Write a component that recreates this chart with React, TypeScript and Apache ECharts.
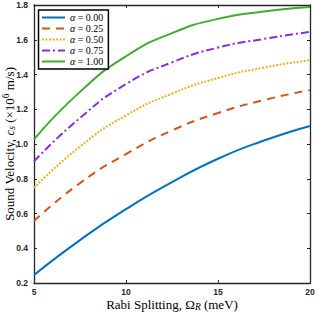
import React, { useEffect, useRef } from "react";
import * as echarts from "echarts";

const omega = [5, 7.5, 10, 12.5, 15, 17.5, 20];
const alphaNames = ["α = 0.00", "α = 0.25", "α = 0.50", "α = 0.75", "α = 1.00"];
const v000 = [0.246, 0.447, 0.625, 0.78, 0.915, 1.02, 1.104];
const v025 = [0.557, 0.775, 0.942, 1.078, 1.178, 1.253, 1.31];
const v050 = [0.747, 0.985, 1.165, 1.29, 1.38, 1.44, 1.483];
const v075 = [0.9, 1.15, 1.345, 1.47, 1.555, 1.605, 1.645];
const v100 = [1.026, 1.3, 1.505, 1.638, 1.72, 1.762, 1.788];
const xTicks = [5, 10, 15, 20];
const yTicks = [0.2, 0.4, 0.6, 0.8, 1.0, 1.2, 1.4, 1.6, 1.8];

const seriesValues = [v000, v025, v050, v075, v100];
const colors = ["#0072BD", "#D95319", "#EDB120", "#8A2BE2", "#44AA33"];
const dashes: any[] = ["solid", [8, 6], [2, 1.5], [8, 3, 2, 3], "solid"];

const axisColor = "#262626";
const serif = "'Liberation Serif', 'DejaVu Serif', serif";
const sans = "'Liberation Sans', Arial, sans-serif";

export default function App() {
  const ref = useRef<HTMLDivElement>(null);
  useEffect(() => {
    document.body.style.margin = "0";
    const chart = echarts.init(ref.current!, null, { renderer: "svg" });
    const nameRich = {
      t: { fontFamily: serif, fontSize: 13, lineHeight: 16, color: "#000" },
      i: { fontFamily: serif, fontSize: 13, fontStyle: "italic", lineHeight: 16, color: "#000" },
      sub: { fontFamily: serif, fontSize: 9.5, fontStyle: "italic", lineHeight: 10, verticalAlign: "bottom", color: "#000" },
      sup: { fontFamily: serif, fontSize: 9.5, lineHeight: 10, verticalAlign: "top", color: "#000" },
    };
    const tickLabel = { fontFamily: sans, fontWeight: "bold", fontSize: 8.5, color: axisColor };
    chart.setOption({
      animation: false,
      grid: { left: 34, right: 7, top: 5, bottom: 29, containLabel: false, outerBoundsMode: "none" },
      legend: {
        orient: "vertical",
        left: 38.5,
        top: 10,
        backgroundColor: "#fff",
        borderColor: "#000",
        borderWidth: 1.5,
        borderRadius: 0,
        padding: [2.5, 5, 2.5, 2.5],
        itemWidth: 23,
        itemHeight: 8,
        itemGap: 1,
        itemTextGap: 2,
        data: alphaNames,
        itemStyle: { opacity: 0 },
        formatter: (n: string) => `{i|α}{t|${n.slice(1)}}`,
        textStyle: {
          rich: {
            i: { fontFamily: serif, fontSize: 10, fontStyle: "italic", lineHeight: 10, color: "#000" },
            t: { fontFamily: serif, fontSize: 10, lineHeight: 10, color: "#000" },
          },
        },
      },
      xAxis: [
        {
          type: "value",
          min: 5,
          max: 20,
          interval: 5,
          position: "bottom",
          axisLine: { show: true, lineStyle: { color: axisColor, width: 1.3 } },
          axisTick: { show: true, inside: true, length: 3, lineStyle: { color: axisColor } },
          axisLabel: { ...tickLabel, margin: 4, formatter: (v: number) => (xTicks.includes(v) ? String(v) : "") },
          splitLine: { show: false },
          name: "{t|Rabi Splitting, Ω}{sub|R}{t| (meV)}",
          nameLocation: "middle",
          nameGap: 13,
          nameMoveOverlap: false,
          nameTextStyle: { rich: nameRich },
        },
        {
          type: "value",
          min: 5,
          max: 20,
          interval: 5,
          position: "top",
          axisLine: { show: true, lineStyle: { color: axisColor, width: 1.3 } },
          axisTick: { show: true, inside: true, length: 3, lineStyle: { color: axisColor } },
          axisLabel: { show: false },
          splitLine: { show: false },
        },
      ],
      yAxis: [
        {
          type: "value",
          min: 0.2,
          max: 1.8,
          interval: 0.2,
          position: "left",
          axisLine: { show: true, lineStyle: { color: axisColor, width: 1.3 } },
          axisTick: { show: true, inside: true, length: 3, lineStyle: { color: axisColor } },
          axisLabel: {
            ...tickLabel,
            margin: 6,
            formatter: (v: number) => {
              const t = yTicks.find((y) => Math.abs(y - v) < 1e-6);
              return t === undefined ? "" : t.toFixed(1);
            },
          },
          splitLine: { show: false },
          name: "{t|Sound Velocity, }{i|c}{sub|s}{t| (×10}{sup|6}{t| m/s)}",
          nameLocation: "middle",
          nameGap: 17,
          nameMoveOverlap: false,
          nameTextStyle: { rich: nameRich },
        },
        {
          type: "value",
          min: 0.2,
          max: 1.8,
          interval: 0.2,
          position: "right",
          axisLine: { show: true, lineStyle: { color: axisColor, width: 1.3 } },
          axisTick: { show: true, inside: true, length: 3, lineStyle: { color: axisColor } },
          axisLabel: { show: false },
          splitLine: { show: false },
        },
      ],
      series: seriesValues.map((vals, k) => ({
        name: alphaNames[k],
        type: "line",
        xAxisIndex: 0,
        yAxisIndex: 0,
        smooth: 0.55,
        showSymbol: false,
        symbol: "none",
        color: colors[k],
        lineStyle: { color: colors[k], width: 2, type: dashes[k] },
        data: omega.map((x, j) => [x, vals[j]]),
      })),
    });
    return () => chart.dispose();
  }, []);
  return <div ref={ref} style={{ width: 317, height: 312 }} />;
}
